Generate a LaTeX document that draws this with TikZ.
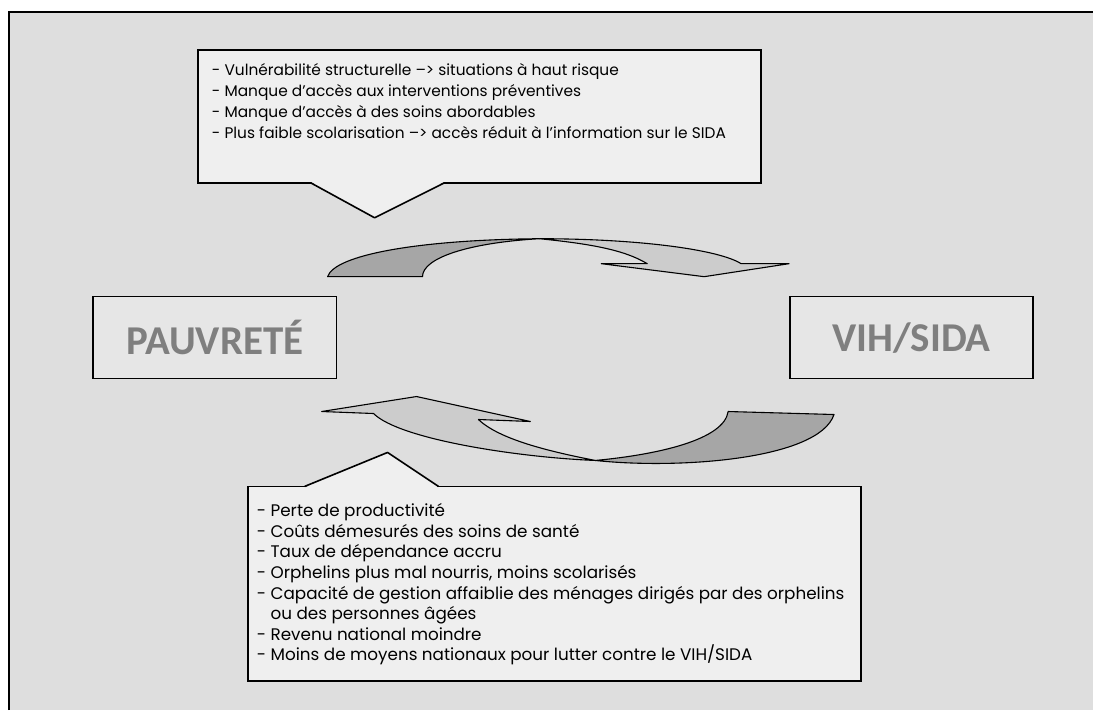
\documentclass[tikz,border=0pt]{standalone}
\usepackage{fontspec}
\setmainfont{Poppins}
\newfontfamily\titrefont{Carlito}
\usetikzlibrary{positioning}
\definecolor{fondgris}{HTML}{DEDEDE}
\definecolor{boitegris}{HTML}{EFEFEF}
\definecolor{titregris}{HTML}{E6E6E6}
\definecolor{textegris}{HTML}{7F7F7F}
\definecolor{flechefonce}{HTML}{A6A6A6}
\definecolor{flecheclair}{HTML}{CCCCCC}

\begin{document}
\begin{tikzpicture}[
    x=1pt, y=-1pt,
    liste/.style={rectangle, draw, line width=1.6pt, fill=boitegris, inner sep=0pt},
    titre/.style={rectangle, draw, line width=1.6pt, fill=titregris, minimum width=244pt,
                  minimum height=82pt, text=textegris, font=\titrefont\bfseries\fontsize{41}{41}\selectfont},
    texte/.style={align=left, anchor=north west, inner sep=0pt},
    fleche/.style={draw, line width=1.1pt, line join=round}
]
% fond et cadre
\fill[white] (0,0) rectangle (1094,711);
\fill[fondgris] (9,12) rectangle (1094,711);
\draw[line width=2.6pt] (9,711) -- (9,12) -- (1094,12);

% les deux poles
\node[titre] (pauv) at (215,338) {PAUVRETÉ};
\node[titre, minimum width=243pt] (vih) at (912.5,338) {VIH/SIDA};

% bulle du haut
\node[liste, minimum width=564pt, minimum height=133pt] (causes) at (480,116.5) {};
\fill[boitegris] (311,182) -- (375,218) -- (445,182) -- (445,180) -- (311,180) -- cycle;
\draw[line width=1.6pt, line join=round] (311,183) -- (375,218) -- (445,183);
\node[texte, font=\fontsize{15.4}{21}\selectfont] (causestxt) at (212,63) {%
- Vulnérabilité structurelle –> situations à haut risque\\
- Manque d’accès aux interventions préventives\\
- Manque d’accès à des soins abordables\\
- Plus faible scolarisation –> accès réduit à l’information sur le SIDA};

% bulle du bas
\node[liste, minimum width=614pt, minimum height=195pt] (effets) at (555,584.5) {};
\fill[boitegris] (305,488) -- (388,453) -- (439,488) -- (439,490) -- (305,490) -- cycle;
\draw[line width=1.6pt, line join=round] (305,487) -- (388,453) -- (439,487);
\node[texte, font=\fontsize{16.8}{20.6}\selectfont] (effetstxt) at (257,504) {%
- Perte de productivité\\
- Coûts démesurés des soins de santé\\
- Taux de dépendance accru\\
- Orphelins plus mal nourris, moins scolarisés\\
- Capacité de gestion affaiblie des ménages dirigés par des orphelins\\
\phantom{- }ou des personnes âgées\\
- Revenu national moindre\\
- Moins de moyens nationaux pour lutter contre le VIH/SIDA};

% fleche du haut (pauvrete vers vih)
\path[fleche, fill=flechefonce] (328,277) .. controls (335,255) and (420,240) .. (540,239)
    .. controls (470,243) and (423,258) .. (423,277) -- cycle;
\path[fleche, fill=flecheclair] (540,239) .. controls (640,239) and (720,250) .. (742,264)
    -- (790,264) -- (705,277) -- (602,264) -- (648,264)
    .. controls (625,250) and (590,244) .. (540,239) -- cycle;

% fleche du bas (vih vers pauvrete)
\path[fleche, fill=flechefonce] (596,461) .. controls (680,470) and (820,460) .. (835,415)
    -- (729,412) .. controls (725,440) and (660,455) .. (596,461) -- cycle;
\path[fleche, fill=flecheclair] (596,461) .. controls (520,458) and (400,440) .. (374,414)
    -- (322,412) -- (417,397) -- (531,422) -- (479,420)
    .. controls (500,440) and (550,452) .. (596,461) -- cycle;
\end{tikzpicture}
\end{document}
